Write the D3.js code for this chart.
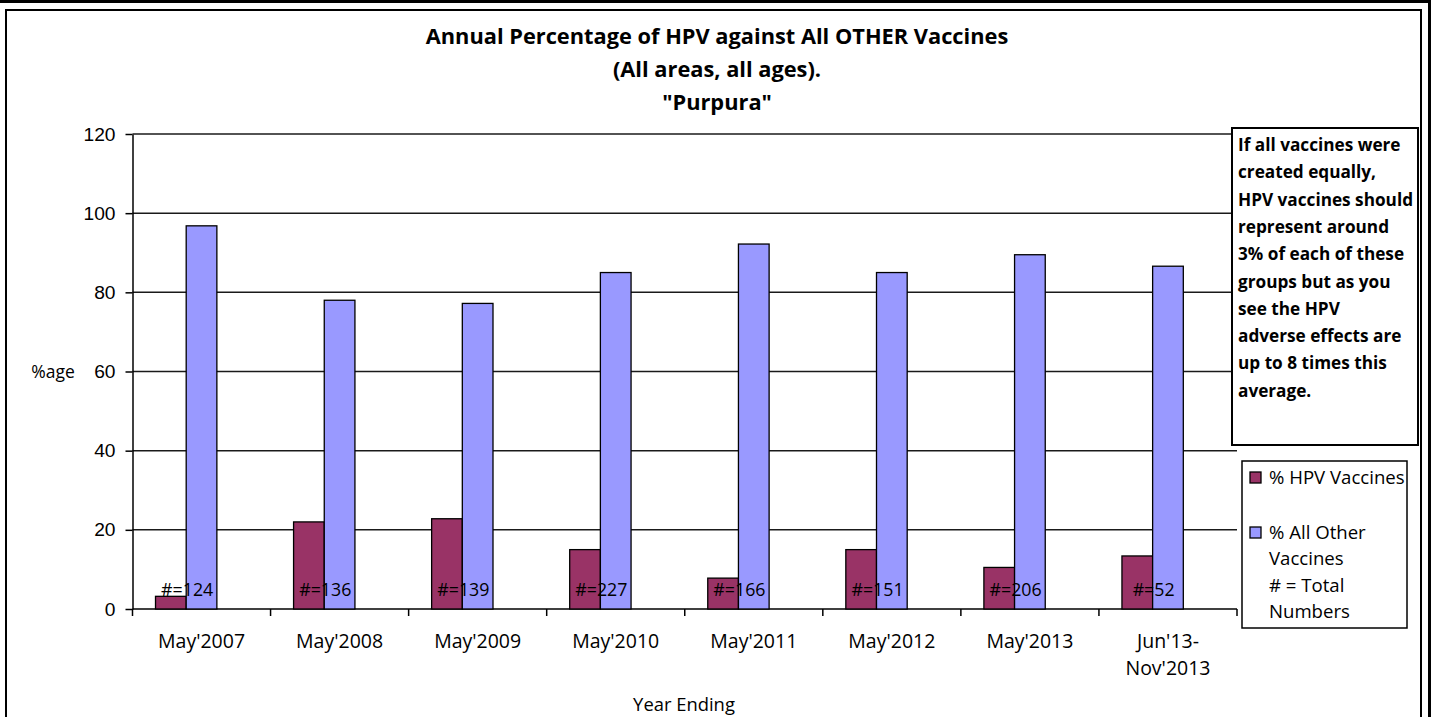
<!DOCTYPE html>
<html><head><meta charset="utf-8">
<script src="https://cdn.jsdelivr.net/npm/d3@7"></script>
<style>
body{margin:0;background:#fff;}
svg{display:block;font-family:"Open Sans", Lato, sans-serif;}
</style></head><body>
<svg id="chart" width="1431" height="717"></svg>
<script>
const categories = ["May'2007","May'2008","May'2009","May'2010","May'2011","May'2012","May'2013","Jun'13-Nov'2013"];
const tickLabels = [["May'2007"],["May'2008"],["May'2009"],["May'2010"],["May'2011"],["May'2012"],["May'2013"],["Jun'13-","Nov'2013"]];
const hpvPct   = [3.2, 22.0, 22.8, 15.0, 7.8, 15.0, 10.5, 13.4];
const otherPct = [96.8, 78.0, 77.2, 85.0, 92.2, 85.0, 89.5, 86.6];
const totals   = [124, 136, 139, 227, 166, 151, 206, 52];
const yTicks   = [0, 20, 40, 60, 80, 100, 120];
const seriesKeys = ["hpv", "other", "total"];
const seriesNames = ["% HPV Vaccines", "% All Other Vaccines", "# = Total Numbers"];
const titleLines = ["Annual Percentage of HPV against All OTHER Vaccines", "(All areas, all ages).", "\"Purpura\""];
const noteLines = ["If all vaccines were","created equally,","HPV vaccines should","represent around","3% of each of these","groups but as you","see the HPV","adverse effects are","up to 8 times this","average."];
const yTitle = "%age";
const xTitle = "Year Ending";

const colors = {hpv: "#993366", other: "#9999FF"};
const svg = d3.select("#chart");
const bodySize = 19.5, tickSize = 19.2, legendSize = 18.6, boldSize = 17.2, titleSize = 21.8,
      numSize = 17.8, yTitleSize = 17.5, xTitleSize = 18.4;

// outer frame
svg.append("rect").attr("x",0).attr("y",0).attr("width",1431).attr("height",3).attr("fill","#000");
svg.append("rect").attr("x",1428).attr("y",0).attr("width",3).attr("height",717).attr("fill","#000");
svg.append("rect").attr("x",6).attr("y",10).attr("width",1415).attr("height",730)
  .attr("fill","none").attr("stroke","#000").attr("stroke-width",2);

const plot = {left:132.5, right:1237, top:134, bottom:609};
const x = d3.scaleBand().domain(categories).range([plot.left, plot.right]).paddingInner(0).paddingOuter(0);
const xs = d3.scaleBand().domain(seriesKeys).range([0, x.bandwidth()]).paddingInner(0).paddingOuter(0.75);
const y = d3.scaleLinear().domain([0,120]).range([plot.bottom, plot.top]);

// gridlines
svg.append("g").selectAll("line").data(yTicks.filter(d=>d>0)).join("line")
  .attr("x1",plot.left).attr("x2",plot.right)
  .attr("y1",d=>y(d)).attr("y2",d=>y(d))
  .attr("stroke","#1a1a1a").attr("stroke-width",1.5);

// y axis
const yAxis = svg.append("g").attr("transform",`translate(${plot.left},0)`)
  .call(d3.axisLeft(y).tickValues(yTicks).tickSize(7).tickSizeOuter(0).tickPadding(10));
yAxis.select(".domain").attr("stroke","#000").attr("stroke-width",1.5);
yAxis.selectAll(".tick line").attr("stroke","#000").attr("stroke-width",1.5);
yAxis.selectAll(".tick text").attr("font-family",null).attr("font-size",tickSize).attr("fill","#000");

// x axis baseline and ticks
svg.append("line").attr("x1",plot.left).attr("x2",plot.right).attr("y1",y(0)).attr("y2",y(0))
  .attr("stroke","#000").attr("stroke-width",1.5);
const bounds = categories.map(c=>x(c)).concat([x(categories[categories.length-1])+x.bandwidth()]);
svg.append("g").selectAll("line").data(bounds).join("line")
  .attr("x1",d=>d).attr("x2",d=>d).attr("y1",y(0)).attr("y2",y(0)+7)
  .attr("stroke","#000").attr("stroke-width",1.5);

// x labels
const xl = svg.append("g").selectAll("text").data(categories).join("text")
  .attr("text-anchor","middle").attr("font-size",bodySize).attr("fill","#000")
  .attr("x",c=>x(c)+x.bandwidth()/2).attr("y",648);
xl.selectAll("tspan").data((c,i)=>tickLabels[i]).join("tspan")
  .attr("x",function(){return this.parentNode.getAttribute("x");})
  .attr("dy",(d,i)=>i===0?0:27).text(d=>d);

// bars
const rows = categories.map((c,i)=>({cat:c, hpv:hpvPct[i], other:otherPct[i], total:totals[i]}));
["hpv","other"].forEach(k=>{
  svg.append("g").selectAll("rect").data(rows).join("rect")
    .attr("x",d=>x(d.cat)+xs(k)).attr("width",xs.bandwidth())
    .attr("y",d=>y(d[k])).attr("height",d=>y(0)-y(d[k]))
    .attr("fill",colors[k]).attr("stroke","#000").attr("stroke-width",1.3);
});

// total number labels
svg.append("g").selectAll("text").data(rows).join("text")
  .attr("x",d=>x(d.cat)+xs("other")+1).attr("y",y(5)+6.5)
  .attr("text-anchor","middle").attr("font-size",numSize).attr("fill","#000")
  .text(d=>"#="+d.total);

// titles
svg.append("g").selectAll("text").data(titleLines).join("text")
  .attr("x",717).attr("y",(d,i)=>[43.5,77,110][i])
  .attr("text-anchor","middle").attr("font-weight","bold").attr("font-size",titleSize).attr("fill","#000")
  .text(d=>d);
svg.append("text").attr("x",53).attr("y",378).attr("text-anchor","middle")
  .attr("font-size",yTitleSize).text(yTitle);
svg.append("text").attr("x",684).attr("y",711).attr("text-anchor","middle")
  .attr("font-size",xTitleSize).text(xTitle);

// note box
svg.append("rect").attr("x",1232).attr("y",128).attr("width",186).attr("height",317)
  .attr("fill","#fff").attr("stroke","#000").attr("stroke-width",2);
svg.append("g").selectAll("text").data(noteLines).join("text")
  .attr("x",1238).attr("y",(d,i)=>151+i*27.3)
  .attr("font-weight","bold").attr("font-size",boldSize).attr("fill","#000").text(d=>d);

// legend
svg.append("rect").attr("x",1242).attr("y",461).attr("width",165).attr("height",167)
  .attr("fill","#fff").attr("stroke","#000").attr("stroke-width",1.5);
const legRows = [
  {key:"hpv", lines:["% HPV Vaccines"], y:484},
  {key:"other", lines:["% All Other","Vaccines"], y:539},
  {key:null, lines:["# = Total","Numbers"], y:592}
];
legRows.forEach((r,ri)=>{
  if(r.key) svg.append("rect").attr("x",1250).attr("y",r.y-12).attr("width",11).attr("height",11)
    .attr("fill",colors[r.key]).attr("stroke","#000").attr("stroke-width",1.3);
  const t = svg.append("text").attr("x",1269).attr("y",r.y).attr("font-size",legendSize).attr("fill","#000");
  r.lines.forEach((l,i)=>t.append("tspan").attr("x",1269).attr("dy",i?26:0).text(l));
});
</script>
</body></html>
